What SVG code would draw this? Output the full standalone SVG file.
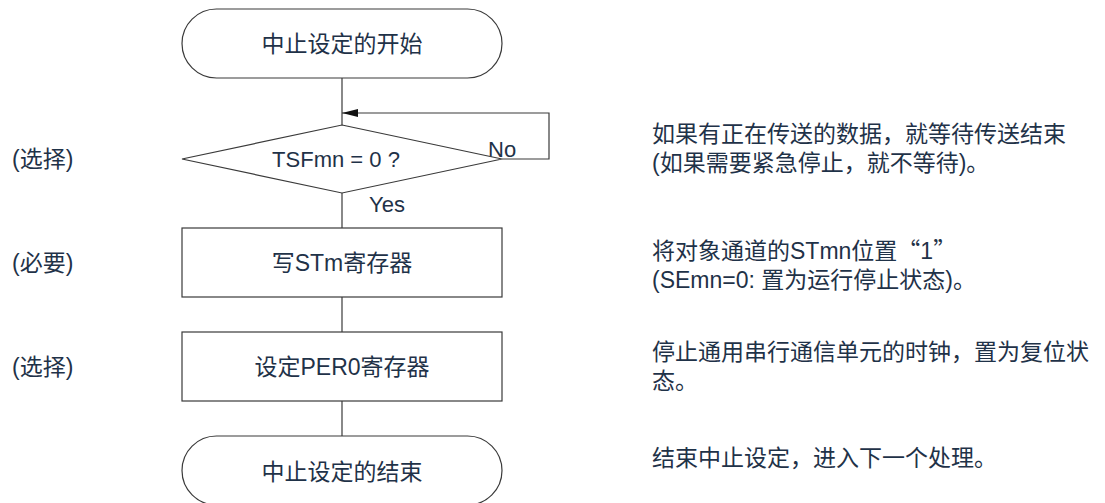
<svg xmlns="http://www.w3.org/2000/svg" width="1105" height="503" viewBox="0 0 1105 503">
<style>
.shape{fill:#fff;stroke:#3a3a3a;stroke-width:1.2}
.conn{fill:none;stroke:#3a3a3a;stroke-width:1.2}
text{font-family:"Liberation Sans","Noto Sans CJK SC",sans-serif;font-size:23px;fill:#1f3248}
.c{text-anchor:middle}
.cjk{font-family:"Noto Sans CJK SC",sans-serif}
</style>
<defs>
<marker id="arr" viewBox="0 0 16 8" refX="16" refY="4" markerWidth="16" markerHeight="8" markerUnits="userSpaceOnUse" orient="auto">
<path d="M0,0 L16,4 L0,8 Z" fill="#111"/>
</marker>
</defs>
<rect width="1105" height="503" fill="#fff"/>
<g id="connectors">
<line class="conn" x1="342" y1="78" x2="342" y2="125"/>
<polyline class="conn" points="502,159 549,159 549,113 342,113" marker-end="url(#arr)"/>
<line class="conn" x1="342" y1="193" x2="342" y2="228"/>
<line class="conn" x1="342" y1="297" x2="342" y2="332"/>
<line class="conn" x1="342" y1="401" x2="342" y2="436"/>
<text x="488" y="157" style="font-size:22px">No</text>
<text x="369" y="212" style="font-size:22px">Yes</text>
</g>
<g id="start">
<rect class="shape" x="182" y="9" width="320" height="69" rx="34.5"/>
<text class="c" x="342" y="52">中止设定的开始</text>
</g>
<g id="decision">
<polygon class="shape" points="342,125 502,159 342,193 182,159"/>
<text class="c" x="336" y="167" style="font-size:22px">TSFmn = 0 ?</text>
</g>
<g id="box1">
<rect class="shape" x="182" y="228" width="320" height="69"/>
<text class="c" x="342" y="271">写STm寄存器</text>
</g>
<g id="box2">
<rect class="shape" x="182" y="332" width="320" height="69"/>
<text class="c" x="342" y="375">设定PER0寄存器</text>
</g>
<g id="end">
<rect class="shape" x="182" y="436" width="320" height="69" rx="34.5"/>
<text class="c" x="342" y="480">中止设定的结束</text>
</g>
<g id="left-labels">
<text x="12" y="167">(选择)</text>
<text x="12" y="271">(必要)</text>
<text x="12" y="375">(选择)</text>
</g>
<g id="notes">
<text x="652" y="142">如果有正在传送的数据，就等待传送结束</text>
<text x="652" y="171">(如果需要紧急停止，就不等待)。</text>
<text x="652" y="259">将对象通道的STmn位置<tspan class="cjk">“</tspan>1<tspan class="cjk">”</tspan></text>
<text x="652" y="288">(SEmn=0: 置为运行停止状态)。</text>
<text x="652" y="360">停止通用串行通信单元的时钟，置为复位状</text>
<text x="652" y="389">态。</text>
<text x="652" y="466">结束中止设定，进入下一个处理。</text>
</g>
</svg>
